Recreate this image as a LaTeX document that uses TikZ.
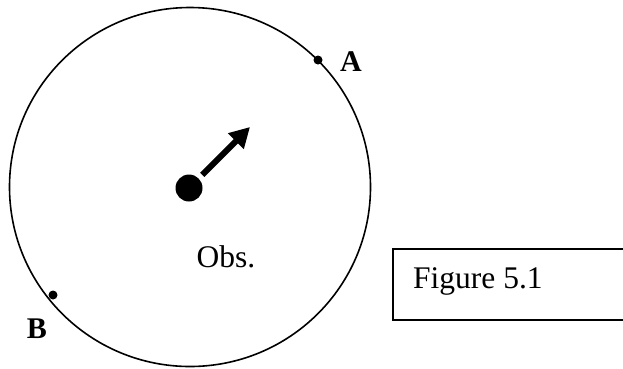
\documentclass[tikz,border=0pt]{standalone}
\usepackage{fontspec}
\setmainfont{Liberation Serif}
\usetikzlibrary{arrows.meta}
\begin{document}
\begin{tikzpicture}[x=1pt,y=-1pt,
  lbl/.style={font=\fontsize{30}{34}\selectfont\bfseries, inner sep=0pt},
  txt/.style={font=\fontsize{31.5}{34}\selectfont, inner sep=0pt},
  smalldot/.style={circle, fill=black, minimum size=9pt, inner sep=0pt},
  bigdot/.style={circle, fill=black, minimum size=27pt, inner sep=0pt}]
\useasboundingbox (0,0) rectangle (623,368);
\clip (0,0) rectangle (623,368);
\draw[line width=1.6pt] (190,187) ellipse [x radius=180.5, y radius=179.5];
\node[bigdot] (obs) at (189,188) {};
\coordinate (tip) at (250,127);
\draw[line width=6pt, shorten <=5pt, -{Triangle[length=20pt,width=21pt]}] (obs) -- (tip);
\node[smalldot] (da) at (318,60) {};
\node[smalldot] (db) at (53,295) {};
\node[lbl] (la) at (351,62) {A};
\node[lbl] (lb) at (37,329) {B};
\node[txt, anchor=base] (obst) at (226,267) {Obs.};
\draw[line width=2pt] (630,249) -- (393,249) -- (393,320) -- (630,320);
\node[txt, anchor=base west] (fig) at (413,288) {Figure 5.1};
\end{tikzpicture}
\end{document}
